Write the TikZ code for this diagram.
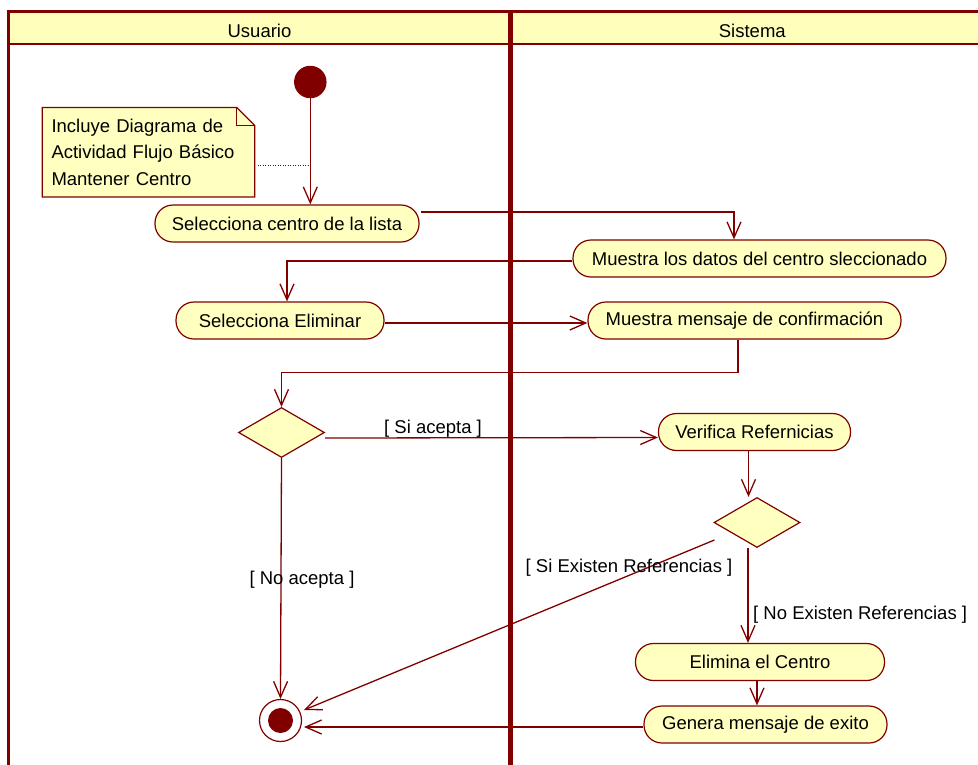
\documentclass[tikz,border=0pt]{standalone}
\usepackage{fontspec}
\setmainfont{Liberation Sans}
\usetikzlibrary{arrows.meta,shapes.geometric,calc}
\definecolor{umlred}{RGB}{128,0,0}
\definecolor{umlfill}{RGB}{255,255,192}
\definecolor{hdrfill}{RGB}{255,255,187}
\newcommand{\lblfont}{\fontsize{18.5}{26.3}\selectfont}
\tikzset{
  act/.style={draw=umlred, fill=umlfill, line width=1.2pt, rounded corners=18pt,
    minimum height=37pt, inner sep=0pt, font=\lblfont, text=black},
  flow/.style={draw=umlred, line width=1.3pt,
    -{Straight Barb[length=16pt,width=14pt,line width=1.3pt]}},
  dec/.style={diamond, draw=umlred, fill=umlfill, line width=1.2pt,
    minimum width=86pt, minimum height=50pt, inner sep=0pt},
  guard/.style={font=\lblfont, text=black, inner sep=0pt},
  lanehdr/.style={font=\lblfont, text=black, inner sep=0pt},
  notebox/.style={font=\lblfont, text=black, align=left, text width=194pt,
    inner xsep=9pt, inner ysep=0pt, minimum height=89pt},
  notelink/.style={draw=umlred, line width=1pt, dash pattern=on 1pt off 1.5pt},
}
\begin{document}
\begin{tikzpicture}[x=1pt,y=-1pt]
\useasboundingbox (0,0) rectangle (978,764);
\clip (0,0) rectangle (978,764);
\fill[white] (0,0) rectangle (978,764);

% swimlane frame
\fill[hdrfill] (8,11) rectangle (995,44);
\draw[umlred, line width=2.5pt] (8,44) -- (995,44);
\draw[umlred, line width=3pt] (8,780) -- (8,11) -- (995,11);
\draw[umlred, line width=5pt] (510,11) -- (510,780);
\node[lanehdr] (hU) at (259.5,30.5) {Usuario};
\node[lanehdr] (hS) at (752.3,30.5) {Sistema};

% nodes
\node[circle, fill=umlred, minimum size=32.5pt, inner sep=0pt] (start) at (310.3,82) {};
\node[notebox] (note) at (148.5,152.2) {Incluye Diagrama de\\Actividad Flujo Básico\\Mantener Centro};
\draw[umlred, fill=umlfill, line width=1.2pt]
  (note.north west) -- ($(note.north east)+(-18,0)$) -- ($(note.north east)+(0,18)$)
  -- (note.south east) -- (note.south west) -- cycle;
\draw[umlred, line width=1.2pt]
  ($(note.north east)+(-18,0)$) -- ($(note.north east)+(-18,18)$) -- ($(note.north east)+(0,18)$);
\node[notebox] at (note.center) {Incluye Diagrama de\\Actividad Flujo Básico\\Mantener Centro};

\node[act, minimum width=264pt] (sel1) at (287,223.5) {Selecciona centro de la lista};
\node[act, minimum width=373pt] (datos) at (759.5,258.5) {Muestra los datos del centro sleccionado};
\node[act, minimum width=208pt] (selElim) at (280,320.5) {Selecciona Eliminar};
\node[act, minimum width=313pt] (msg) at (744.5,320.5) {Muestra mensaje de confirmación};
\node[dec] (d1) at (281.5,432.5) {};
\node[act, minimum width=192pt] (verif) at (754.5,432) {Verifica Refernicias};
\node[dec] (d2) at (757,522.5) {};
\node[act, minimum width=249pt] (elim) at (760,662) {Elimina el Centro};
\node[act, minimum width=243pt] (genera) at (765.5,724.5) {Genera mensaje de exito};
\node[circle, draw=umlred, fill=white, line width=1.2pt, minimum size=42pt, inner sep=0pt] (end) at (280.5,720.5) {};
\node[circle, fill=umlred, minimum size=25pt, inner sep=0pt] at (end.center) {};

% note link
\coordinate (nl) at (309,165);
\draw[notelink] ($(note.east)+(3,12.8)$) -- (nl);

% flows
\draw[flow] (start.south) -- (start.south |- sel1.north);
\coordinate (a1) at ($(sel1.east)+(1,-11.5)$);
\coordinate (a1t) at ($(datos.north)+(-25.5,0)$);
\draw[flow] (a1) -| (a1t);
\coordinate (a2) at ($(datos.west)+(0,2.5)$);
\coordinate (a2t) at ($(selElim.north)+(7,0)$);
\draw[flow] (a2) -| (a2t);
\draw[flow] ($(selElim.east)+(0,2.5)$) -- ($(msg.west)+(0,2.5)$);
\coordinate (a3) at ($(msg.south)+(-6.5,0)$);
\draw[flow] (a3) -- ++(0,33) -| (d1.north);
\draw[flow] ($(d1.east)+(0,5.5)$) -- ($(verif.west)+(0,5.5)$);
\node[guard] (gSi) at (433,429) {[ Si acepta ]};
\coordinate (a4) at ($(verif.south)+(-6,0)$);
\draw[flow] (a4) -- (a4 |- d2.north);
\draw[flow] ($(d2.west)+(1,17.5)$) -- ($(end.center)+(23.5,-10.5)$);
\node[guard] (gSiEx) at (629,568) {[ Si Existen Referencias ]};
\coordinate (a5) at ($(d2.south)+(-9,0)$);
\draw[flow] (a5) -- (a5 |- elim.north);
\node[guard, anchor=west] (gNoEx) at (753,615) {[ No Existen Referencias ]};
\coordinate (a6) at ($(elim.south)+(-3,0)$);
\draw[flow] (a6) -- (a6 |- genera.north);
\draw[flow] ($(genera.west)+(0,2.5)$) -- ($(end.center)+(23.5,6.5)$);
\draw[flow] (d1.south) -- (end.north);
\node[guard] (gNo) at (302,580) {[ No acepta ]};
\end{tikzpicture}
\end{document}
